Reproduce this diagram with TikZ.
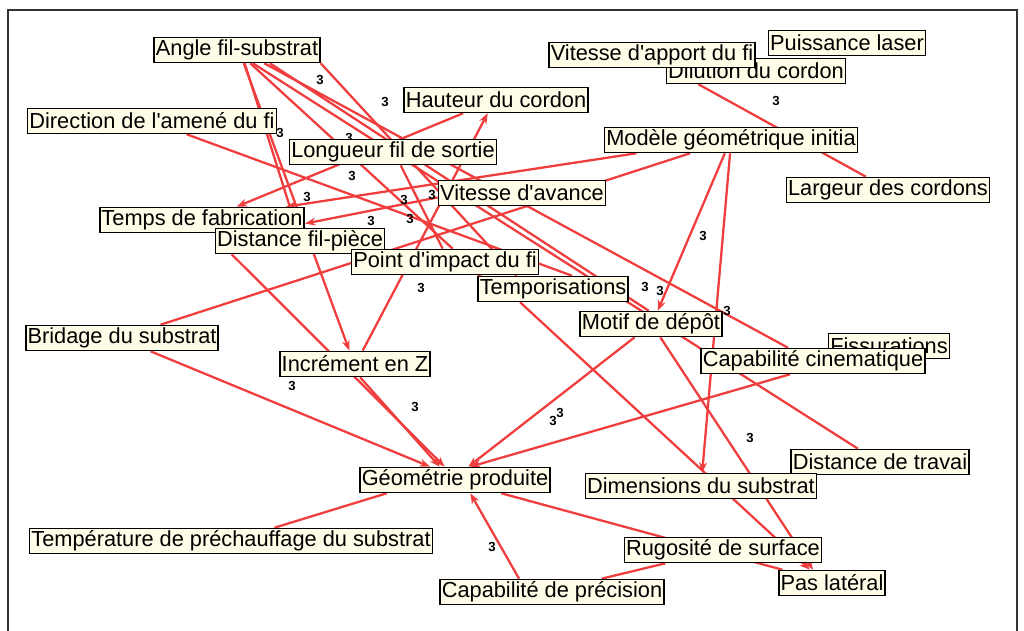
\documentclass[tikz,border=0pt]{standalone}
\usepackage{fontspec}
\setmainfont{Liberation Sans}
\usepackage{xcolor}
\usepackage{tikz}
\usetikzlibrary{arrows.meta,positioning,backgrounds}
\definecolor{boxfill}{RGB}{255,253,232}
\definecolor{linkred}{RGB}{240,62,62}
\newcommand{\q}{\textquotesingle}
\tikzset{
  vbox/.style={
    draw=black, fill=boxfill, line width=0.9pt,
    minimum height=5mm, inner xsep=1pt, inner ysep=1pt,
    font=\fontsize{12.4}{13}\selectfont
  },
  link/.style={draw=linkred, line width=1.3pt},
  linkarr/.style={link,-{Stealth[length=6pt,width=4.5pt]}},
  wt/.style={font=\fontsize{7.5}{8}\selectfont\bfseries,inner sep=0pt}
}

\begin{document}
\begin{tikzpicture}[x=0.02cm,y=-0.02cm]
\useasboundingbox (0,0) rectangle (1024,631);
\draw[line width=1pt,black!80] (8,631) -- (8,10) -- (1017,10) -- (1017,631);

% variables
\node[vbox] (ang) at (237,50) {Angle fil-substrat};
\node[vbox] (dir) at (152,121) {Direction de l\q amené du fi};
\node[vbox] (hau) at (496,100) {Hauteur du cordon};
\node[vbox] (lon) at (393,152) {Longueur fil de sortie};
\node[vbox] (dil) at (756,71) {Dilution du cordon};
\node[vbox] (app) at (652,55) {Vitesse d\q apport du fi};
\node[vbox] (pui) at (847,43) {Puissance laser};
\node[vbox] (mod) at (731,140) {Modèle géométrique initia};
\node[vbox] (lar) at (888,190) {Largeur des cordons};
\node[vbox] (ava) at (522,193) {Vitesse d\q avance};
\node[vbox] (tps) at (202,220) {Temps de fabrication};
\node[vbox] (dis) at (300,241) {Distance fil-pièce};
\node[vbox] (imp) at (445,262) {Point d\q impact du fi};
\node[vbox] (tpo) at (553,289) {Temporisations};
\node[vbox] (mot) at (651,324) {Motif de dépôt};
\node[vbox] (bri) at (122,338) {Bridage du substrat};
\node[vbox] (inc) at (355,364) {Incrément en Z};
\node[vbox] (fis) at (889,346) {Fissurations};
\node[vbox] (cin) at (813,361) {Capabilité cinematique};
\node[vbox] (tra) at (880,462) {Distance de travai};
\node[vbox] (geo) at (455,480) {Géométrie produite};
\node[vbox] (dim) at (701,486) {Dimensions du substrat};
\node[vbox] (tem) at (231,541) {Température de préchauffage du substrat};
\node[vbox] (rug) at (723,550) {Rugosité de surface};
\node[vbox] (pas) at (832,583) {Pas latéral};
\node[vbox] (pre) at (552,592) {Capabilité de précision};

% influences
\begin{scope}[on background layer]
  \draw[link] (dil.-167) -- (lar.149);
  \draw[link] (bri.19) -- (mod.-162);
  \draw[linkarr] (mod.-172) -- (tps.9);
  \draw[linkarr] (mod.-115) -- (mot.63);
  \draw[linkarr] (mod.-94) -- (dim.85);
  \draw[link] (ang.-26) -- (cin.152);
  \draw[link] (ang.-40) -- (tra.149);
  \draw[linkarr] (cin.-150) -- (geo.41);
  \draw[linkarr] (mot.-141) -- (geo.45);
  \draw[link] (geo.-16) -- (pas.165);
  \draw[linkarr] (tpo.-158) -- (pas.149);
  \draw[linkarr] (mot.-55) -- (pas.145);
  \draw[linkarr] (pre.158) -- (geo.-41);
  \draw[link] (pre.15) -- (rug.-167);
  \draw[link] (tem.17) -- (geo.-169);
  \draw[linkarr] (bri.-25) -- (geo.152);
  \draw[linkarr] (inc.-69) -- (geo.139);
  \draw[linkarr] (dis.-169) -- (geo.128);
  \draw[linkarr] (ang.-63) -- (inc.113);
  \draw[link] (ang.-60) -- (dis.105);
  \draw[linkarr] (inc.60) -- (hau.-122);
  \draw[linkarr] (hau.-158) -- (tps.21);
  \draw[link] (dir.-21) -- (tpo.35);
  \draw[link] (ang.-45) -- (imp.60);
  \draw[link] (ang.-9) -- (tpo.160);
  \draw[link] (ang.-22) -- (mot.100);
  \draw[linkarr] (ava.-177) -- (tps.-2);
  \draw[link] (lon.-60) -- (imp.100);
  \draw[link] (imp.-20) -- (tpo.170);

  % weights
  \node[wt] (w1) at (776,101) {3};
  \node[wt] (w2) at (320,80) {3};
  \node[wt] (w3) at (385,102) {3};
  \node[wt] (w4) at (280,133) {3};
  \node[wt] (w5) at (349,138) {3};
  \node[wt] (w6) at (352,176) {3};
  \node[wt] (w7) at (307,197) {3};
  \node[wt] (w8) at (404,200) {3};
  \node[wt] (w9) at (432,195) {3};
  \node[wt] (w10) at (371,221) {3};
  \node[wt] (w11) at (410,219) {3};
  \node[wt] (w12) at (421,288) {3};
  \node[wt] (w13) at (645,287) {3};
  \node[wt] (w14) at (660,291) {3};
  \node[wt] (w15) at (703,236) {3};
  \node[wt] (w16) at (727,311) {3};
  \node[wt] (w17) at (292,386) {3};
  \node[wt] (w18) at (415,407) {3};
  \node[wt] (w19) at (553,421) {3};
  \node[wt] (w20) at (560,413) {3};
  \node[wt] (w21) at (750,438) {3};
  \node[wt] (w22) at (492,547) {3};
\end{scope}
\end{tikzpicture}
\end{document}
